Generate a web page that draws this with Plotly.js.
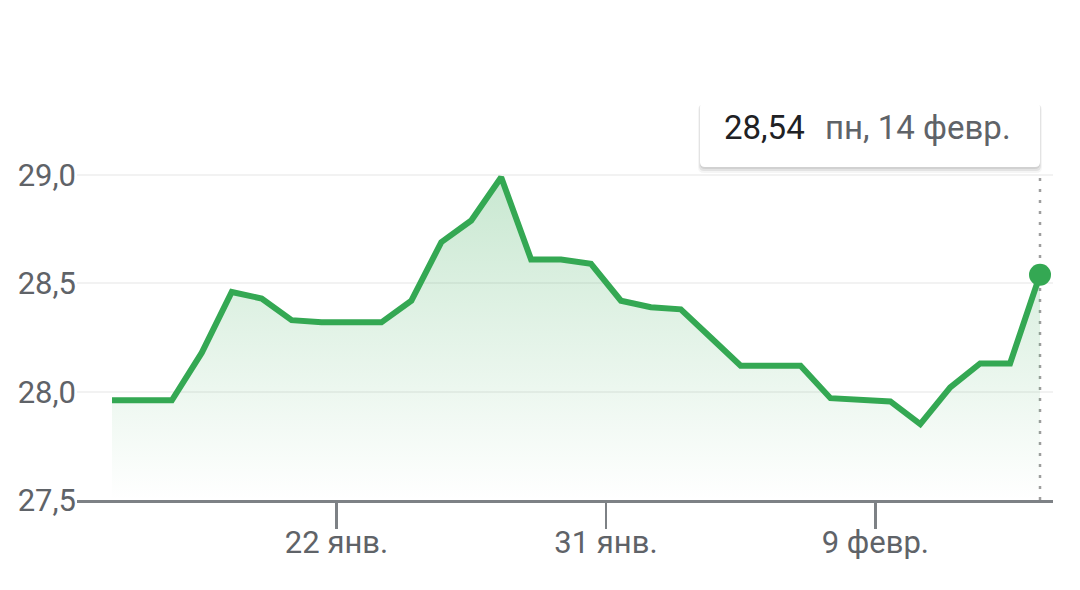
<!DOCTYPE html>
<html><head><meta charset="utf-8">
<script src="https://cdn.plot.ly/plotly-3.0.1.min.js"></script>
<style>html,body{margin:0;padding:0;background:#fff;}#chart{width:1080px;height:590px;}</style>
</head><body><div id="chart"></div>
<script>
const dates = ['2022-01-14','2022-01-15','2022-01-16','2022-01-17','2022-01-18','2022-01-19','2022-01-20','2022-01-21',
  '2022-01-22','2022-01-23','2022-01-24','2022-01-25','2022-01-26','2022-01-27','2022-01-28','2022-01-29','2022-01-30',
  '2022-01-31','2022-02-01','2022-02-02','2022-02-03','2022-02-04','2022-02-05','2022-02-06','2022-02-07','2022-02-08',
  '2022-02-09','2022-02-10','2022-02-11','2022-02-12','2022-02-13','2022-02-14'];
const prices = [27.96,27.96,27.96,28.18,28.46,28.43,28.33,28.32,
  28.32,28.32,28.42,28.69,28.79,28.99,28.61,28.61,28.59,
  28.42,28.39,28.38,28.25,28.12,28.12,28.12,27.97,27.965,
  27.955,27.85,28.02,28.13,28.13,28.54];
const yTickVals = [27.5, 28.0, 28.5, 29.0];
const yTickText = ['27,5','28,0','28,5','29,0'];
const xTickVals = ['2022-01-22','2022-01-31','2022-02-09'];
const xTickText = ['22 янв.','31 янв.','9 февр.'];
const tooltipValue = '28,54';
const tooltipDate = 'пн, 14 февр.';

const W = 1080, H = 590;
const M = {l: 77, r: 27, t: 100, b: 90};
const pw = W - M.l - M.r, ph = H - M.t - M.b;
const px = x => (x - M.l) / pw;
const py = y => (H - M.b - y) / ph;

function roundRect(x0, y0, x1, y1, r) {
  const rx = r / pw, ry = r / ph;
  const a = px(x0), b = px(x1), t = py(y0), u = py(y1);
  return `M${a+rx},${t} L${b-rx},${t} Q${b},${t} ${b},${t-ry} L${b},${u+ry} Q${b},${u} ${b-rx},${u} L${a+rx},${u} Q${a},${u} ${a},${u+ry} L${a},${t-ry} Q${a},${t} ${a+rx},${t} Z`;
}

const xs = dates.map(d => d + ' 12:00');
const lastX = xs[xs.length - 1];
const lastY = prices[prices.length - 1];

const green = '#34a853';

const traces = [
  {
    x: xs, y: prices, type: 'scatter', mode: 'lines',
    line: {color: green, width: 6, shape: 'linear'},
    fill: 'tozeroy',
    fillgradient: {type: 'vertical', start: 27.5, stop: 29.0,
      colorscale: [[0, 'rgba(52,168,83,0)'], [1, 'rgba(52,168,83,0.27)']]},
    hoverinfo: 'skip', showlegend: false
  },
  {
    x: [lastX], y: [lastY], type: 'scatter', mode: 'markers',
    marker: {color: green, size: 22}, hoverinfo: 'skip', showlegend: false
  }
];

const shapes = [
  {type: 'line', xref: 'x', yref: 'paper', x0: lastX, x1: lastX, y0: 0, y1: py(173),
    line: {color: '#9e9e9e', width: 2.5, dash: '3px,8px'}, layer: 'below'},
  {type: 'path', xref: 'paper', yref: 'paper', path: roundRect(698, 104, 1042, 173, 6),
    fillcolor: 'rgba(0,0,0,0.04)', line: {width: 0}},
  {type: 'path', xref: 'paper', yref: 'paper', path: roundRect(699, 104, 1041, 171, 5),
    fillcolor: 'rgba(0,0,0,0.07)', line: {width: 0}},
  {type: 'path', xref: 'paper', yref: 'paper', path: roundRect(700, 103, 1040, 169, 5),
    fillcolor: 'rgba(0,0,0,0.08)', line: {width: 0}},
  {type: 'path', xref: 'paper', yref: 'paper', path: roundRect(700, 102, 1040, 167, 5),
    fillcolor: '#ffffff', line: {width: 0}}
];

const annotations = [
  {xref: 'paper', yref: 'paper', x: px(722), y: py(128), xanchor: 'left', yanchor: 'middle',
    text: tooltipValue, showarrow: false, font: {family: 'Roboto', size: 33, color: '#202124'}},
  {xref: 'paper', yref: 'paper', x: px(823), y: py(128), xanchor: 'left', yanchor: 'middle',
    text: tooltipDate, showarrow: false, font: {family: 'Roboto', size: 33, color: '#5f6368'}}
];

const layout = {
  width: W, height: H,
  margin: M,
  paper_bgcolor: '#ffffff', plot_bgcolor: '#ffffff',
  font: {family: 'Roboto', color: '#5f6368'},
  showlegend: false,
  hovermode: false,
  xaxis: {
    type: 'date',
    range: ['2022-01-13 07:56', '2022-02-14 22:25'],
    tickmode: 'array', tickvals: xTickVals, ticktext: xTickText,
    showgrid: false, zeroline: false,
    showline: true, linecolor: '#7d8185', linewidth: 2.5,
    ticks: 'outside', ticklen: 26, tickwidth: 2.5, tickcolor: '#7d8185',
    ticklabelstandoff: -13,
    tickfont: {family: 'Roboto', size: 31, color: '#5f6368'},
    automargin: false, fixedrange: true
  },
  yaxis: {
    range: [27.5, 27.5 + ph / (325 / 1.5)],
    tickmode: 'array', tickvals: yTickVals, ticktext: yTickText,
    showgrid: true, gridcolor: '#f2f2f2', gridwidth: 2,
    zeroline: false, showline: false, ticks: '',
    tickfont: {family: 'Roboto', size: 31, color: '#5f6368'},
    automargin: false, fixedrange: true
  },
  shapes: shapes,
  annotations: annotations
};

Plotly.newPlot('chart', traces, layout, {displayModeBar: false, staticPlot: true});
</script>
</body></html>
